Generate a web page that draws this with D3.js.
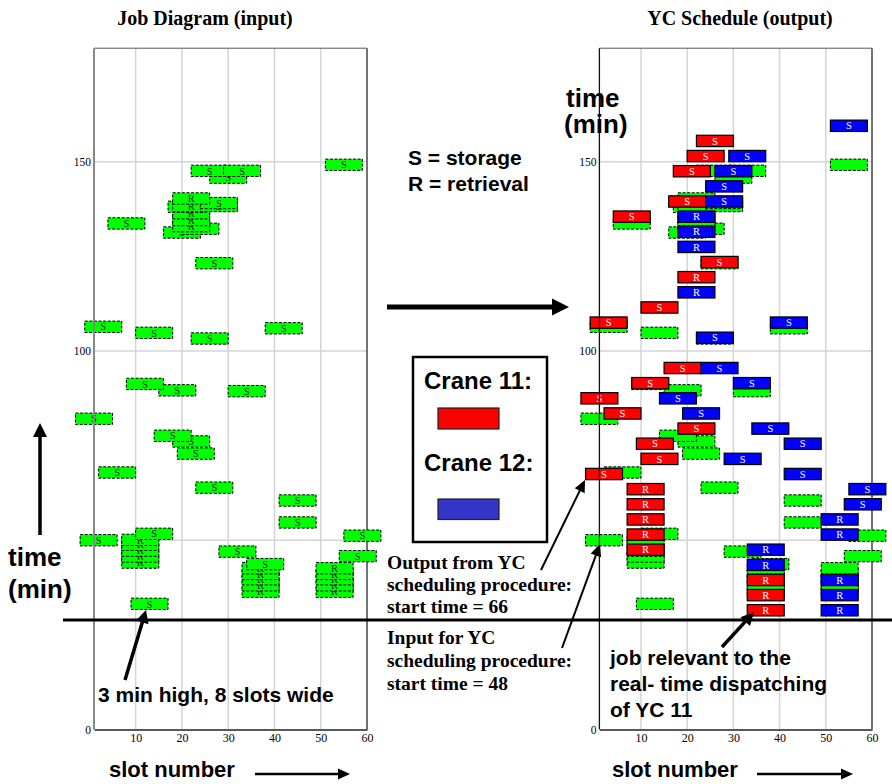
<!DOCTYPE html>
<html><head><meta charset="utf-8">
<script src="https://cdn.jsdelivr.net/npm/d3@7"></script>
<style>body{margin:0;background:#fff}</style>
</head><body>
<svg id="c" width="892" height="784" xmlns="http://www.w3.org/2000/svg"></svg>
<script>
// ---------- data ----------
const slotTicks = [10, 20, 30, 40, 50, 60];
const timeTicks = [0, 50, 100, 150];
const gridSlots = [10, 20, 30, 40, 50];
const gridTimes = [50, 100, 150];
const jobWidthSlots = 8;   // 8 slots wide
const jobHeightMin = 3;    // 3 min high

// input jobs (job diagram)
const inSlot = [22,29,26,51,18,18,18,18,18,17,24,24,4,20,16,23,-1,10,22,38,8,15,30,-3,14,18,19,2,23,41,41,-2,10,
                7,7,7,7,7,28,34,33,33,33,33,33,49,49,49,49,49,54,55,9];
const inTime = [146.1,146.1,144.3,147.7,138.8,136.8,134.9,133.1,131.5,136.6,137.6,136.8,132.2,130.8,129.8,121.7,
                104.9,103.3,101.8,104.5,89.8,88.1,87.9,80.6,76.1,74.6,71.4,66.4,62.4,59.0,53.2,48.5,50.2,
                42.6,44.2,45.75,47.3,48.6,45.5,42.2,34.9,36.6,38.2,39.6,41.1,34.9,36.6,38.2,39.6,41.1,44.3,49.7,31.7];
const inType = ["S","S","S","S","R","R","R","R","R","S","S","S","S","S","S","S","S","S","S","S","S","S","S",
                "S","S","S","S","S","S","S","S","S","S","R","R","R","R","R","S","S","R","R","R","R","R",
                "R","R","R","R","R","S","S","S"];

// output jobs (YC schedule)
const outCrane = [11,11,11,11,11,11,11,11,11,11,11,11,11,11,11,11,11,11,11,11,11,11,11,11,11,
                  12,12,12,12,12,12,12,12,12,12,12,12,12,12,12,12,12,12,12,12,12,12,12,12,12,12,12,12];
const outSlot  = [22,20,17,16,4,23,18,10,-1,15,8,-3,2,18,9,10,-2,7,7,7,7,7,33,33,33,
                  51,29,26,24,24,18,18,18,18,38,22,23,30,14,19,34,41,28,41,55,54,49,49,49,49,49,33,33];
const outTime  = [154,150,146,138,134,122,118,110,106,94,90,86,82,78,74,70,66,62,58,54,50,46,38,34,30,
                  158,150,146,142,138,134,130,126,114,106,102,94,90,86,82,78,74,70,66,62,58,54,50,38,34,30,46,42];
const outType  = ["S","S","S","S","S","S","R","S","S","S","S","S","S","S","S","S","S","R","R","R","R","R","R","R","R",
                  "S","S","S","S","S","R","R","R","R","S","S","S","S","S","S","S","S","S","S","S","S","R","R","R","R","R","R","R"];

const craneColor = {11: "#ff0000", 12: "#0000ff"};

// ---------- setup ----------
const svg = d3.select("#c");
const SANS = "'Liberation Sans', Arial, Helvetica, sans-serif";
const SERIF = "'Liberation Serif', 'Times New Roman', serif";

const y = d3.scaleLinear().domain([0, 180]).range([729.5, 48.2]);
const xL = d3.scaleLinear().domain([1, 60]).range([94, 367]);
const xR = d3.scaleLinear().domain([1, 60]).range([599.4, 872]);

const inputs = inSlot.map((s, i) => ({slot: s, t: inTime[i], type: inType[i], i}))
  .sort((a, b) => a.t - b.t || a.i - b.i);
const outputs = outSlot.map((s, i) => ({slot: s, t: outTime[i], type: outType[i], crane: outCrane[i]}));

function panelBase(x) {
  const g = svg.append("g");
  g.selectAll(".gv").data(gridSlots).join("line")
    .attr("x1", d => x(d)).attr("x2", d => x(d))
    .attr("y1", y(0)).attr("y2", y(180))
    .attr("stroke", "#d4d4d4").attr("stroke-width", 1.5);
  g.selectAll(".gh").data(gridTimes).join("line")
    .attr("x1", x(1)).attr("x2", x(60))
    .attr("y1", d => y(d)).attr("y2", d => y(d))
    .attr("stroke", "#d4d4d4").attr("stroke-width", 1.5);
  g.append("line").attr("x1", x(1)).attr("x2", x(60)).attr("y1", y(180)).attr("y2", y(180))
    .attr("stroke", "#555").attr("stroke-width", 1);
  g.append("line").attr("x1", x(60)).attr("x2", x(60)).attr("y1", y(180)).attr("y2", y(0))
    .attr("stroke", "#444").attr("stroke-width", 1.5);
  const ax = d3.axisBottom(x).tickValues(slotTicks).tickSize(0).tickPadding(4);
  const gx = g.append("g").attr("transform", `translate(0,${y(0)})`).call(ax);
  gx.select(".domain").attr("stroke", "#222").attr("stroke-width", 1.5);
  gx.selectAll("text").attr("font-family", SERIF).attr("font-size", 12).attr("fill", "#000");
  const ay = d3.axisLeft(y).tickValues(timeTicks).tickSize(0).tickPadding(3);
  const gy = g.append("g").attr("transform", `translate(${x(1)},0)`).call(ay);
  gy.select(".domain").remove();
  gy.selectAll("text").attr("font-family", SERIF).attr("font-size", 11.5).attr("fill", "#000");
  return g;
}

function drawJobs(g, x, data, fill, dashed, labelColor, showLabel) {
  const jg = g.append("g");
  const sel = jg.selectAll("g").data(data).join("g");
  sel.append("rect")
    .attr("x", d => x(d.slot))
    .attr("y", d => y(d.t + jobHeightMin))
    .attr("width", d => x(d.slot + jobWidthSlots) - x(d.slot))
    .attr("height", d => y(d.t) - y(d.t + jobHeightMin))
    .attr("fill", typeof fill === "function" ? fill : () => fill)
    .attr("stroke", "#000")
    .attr("stroke-width", dashed ? 1 : 1.2)
    .attr("stroke-dasharray", dashed ? "3,1.6" : null);
  if (showLabel) {
    sel.append("text")
      .attr("x", d => (x(d.slot) + x(d.slot + jobWidthSlots)) / 2)
      .attr("y", d => y(d.t + jobHeightMin / 2))
      .attr("dy", "0.35em")
      .attr("text-anchor", "middle")
      .attr("font-family", SERIF).attr("font-size", 10.5)
      .attr("fill", labelColor)
      .text(d => d.type);
  }
}

function leftAxisLine(x, color, w) {
  svg.append("line").attr("x1", x(1)).attr("x2", x(1)).attr("y1", y(180)).attr("y2", y(0))
    .attr("stroke", color).attr("stroke-width", w);
}

// ---------- left panel ----------
const gL = panelBase(xL);
drawJobs(gL, xL, inputs, "#00ff00", true, "#222", true);
leftAxisLine(xL, "#888", 2);

// ---------- right panel ----------
const gR = panelBase(xR);
drawJobs(gR, xR, inputs, "#00ff00", true, "#222", false);
leftAxisLine(xR, "#111", 1.3);
drawJobs(gR, xR, outputs, d => craneColor[d.crane], false, "#fff", true);

// ---------- annotations ----------
function arrow(x1, y1, x2, y2, w, hl, hw) {
  const dx = x2 - x1, dy = y2 - y1, L = Math.hypot(dx, dy), ux = dx / L, uy = dy / L;
  const bx = x2 - ux * hl, by = y2 - uy * hl;
  svg.append("line").attr("x1", x1).attr("y1", y1).attr("x2", bx + ux * 1).attr("y2", by + uy * 1)
    .attr("stroke", "#000").attr("stroke-width", w);
  svg.append("path")
    .attr("d", `M${x2},${y2}L${bx - uy * hw},${by + ux * hw}L${bx + uy * hw},${by - ux * hw}Z`)
    .attr("fill", "#000");
}
function text(x, yy, s, size, family, opts = {}) {
  return svg.append("text").attr("x", x).attr("y", yy)
    .attr("font-family", family).attr("font-size", size)
    .attr("font-weight", "bold").attr("fill", "#000")
    .attr("text-anchor", opts.anchor || "start").text(s);
}

// titles
text(205, 25, "Job Diagram (input)", 20, SERIF, {anchor: "middle"});
text(740, 25, "YC Schedule (output)", 20, SERIF, {anchor: "middle"});

// horizontal "now" line
svg.append("line").attr("x1", 63).attr("x2", 892).attr("y1", 620).attr("y2", 620)
  .attr("stroke", "#000").attr("stroke-width", 3);

// left time label
arrow(40, 535, 40, 423, 3.5, 14, 7);
text(8, 566, "time", 26, SANS);
text(8, 598, "(min)", 26, SANS);
// right time label
text(566, 107, "time", 26, SANS);
text(564, 133, "(min)", 26, SANS);

// slot number labels
text(109, 777, "slot number", 22, SANS);
arrow(255, 774, 350, 774, 2.5, 12, 5.5);
text(612, 777, "slot number", 22, SANS);
arrow(757, 774, 853, 774, 2.5, 12, 5.5);

// 3 min high annotation
arrow(125, 680, 146, 610, 3.5, 13, 6.5);
text(98, 702, "3 min high, 8 slots wide", 21, SANS);

// S / R legend
text(408, 165, "S = storage", 21, SANS);
text(408, 191, "R = retrieval", 21, SANS);

// big middle arrow
arrow(387, 307, 569, 307, 5, 17, 8.5);

// crane legend
svg.append("rect").attr("x", 413).attr("y", 357).attr("width", 134).attr("height", 185)
  .attr("fill", "#fff").attr("stroke", "#000").attr("stroke-width", 2.5);
text(424, 389, "Crane 11:", 24, SANS);
svg.append("rect").attr("x", 438).attr("y", 408).attr("width", 61).attr("height", 21)
  .attr("fill", "#ff0000").attr("stroke", "#222").attr("stroke-width", 1.2);
text(424, 471, "Crane 12:", 24, SANS);
svg.append("rect").attr("x", 438).attr("y", 499).attr("width", 61).attr("height", 20.5)
  .attr("fill", "#3434c8").attr("stroke", "#222").attr("stroke-width", 1.2);

// output / input annotations
text(387, 569, "Output from YC", 19.5, SERIF);
text(387, 591, "scheduling procedure:", 19.5, SERIF);
text(387, 613, "start time = 66", 19.5, SERIF);
arrow(541, 570, 585, 480, 2, 12, 5.5);

text(387, 644, "Input for YC", 19.5, SERIF);
text(387, 667, "scheduling procedure:", 19.5, SERIF);
text(387, 690, "start time = 48", 19.5, SERIF);
arrow(562, 648, 600, 544, 2, 12, 5.5);

// job relevant annotation
arrow(722, 647, 754, 612, 3.5, 13, 6.5);
text(610, 665, "job relevant to the", 21, SANS);
text(610, 691, "real- time dispatching", 21, SANS);
text(610, 717, "of YC 11", 21, SANS);
</script>
</body></html>
